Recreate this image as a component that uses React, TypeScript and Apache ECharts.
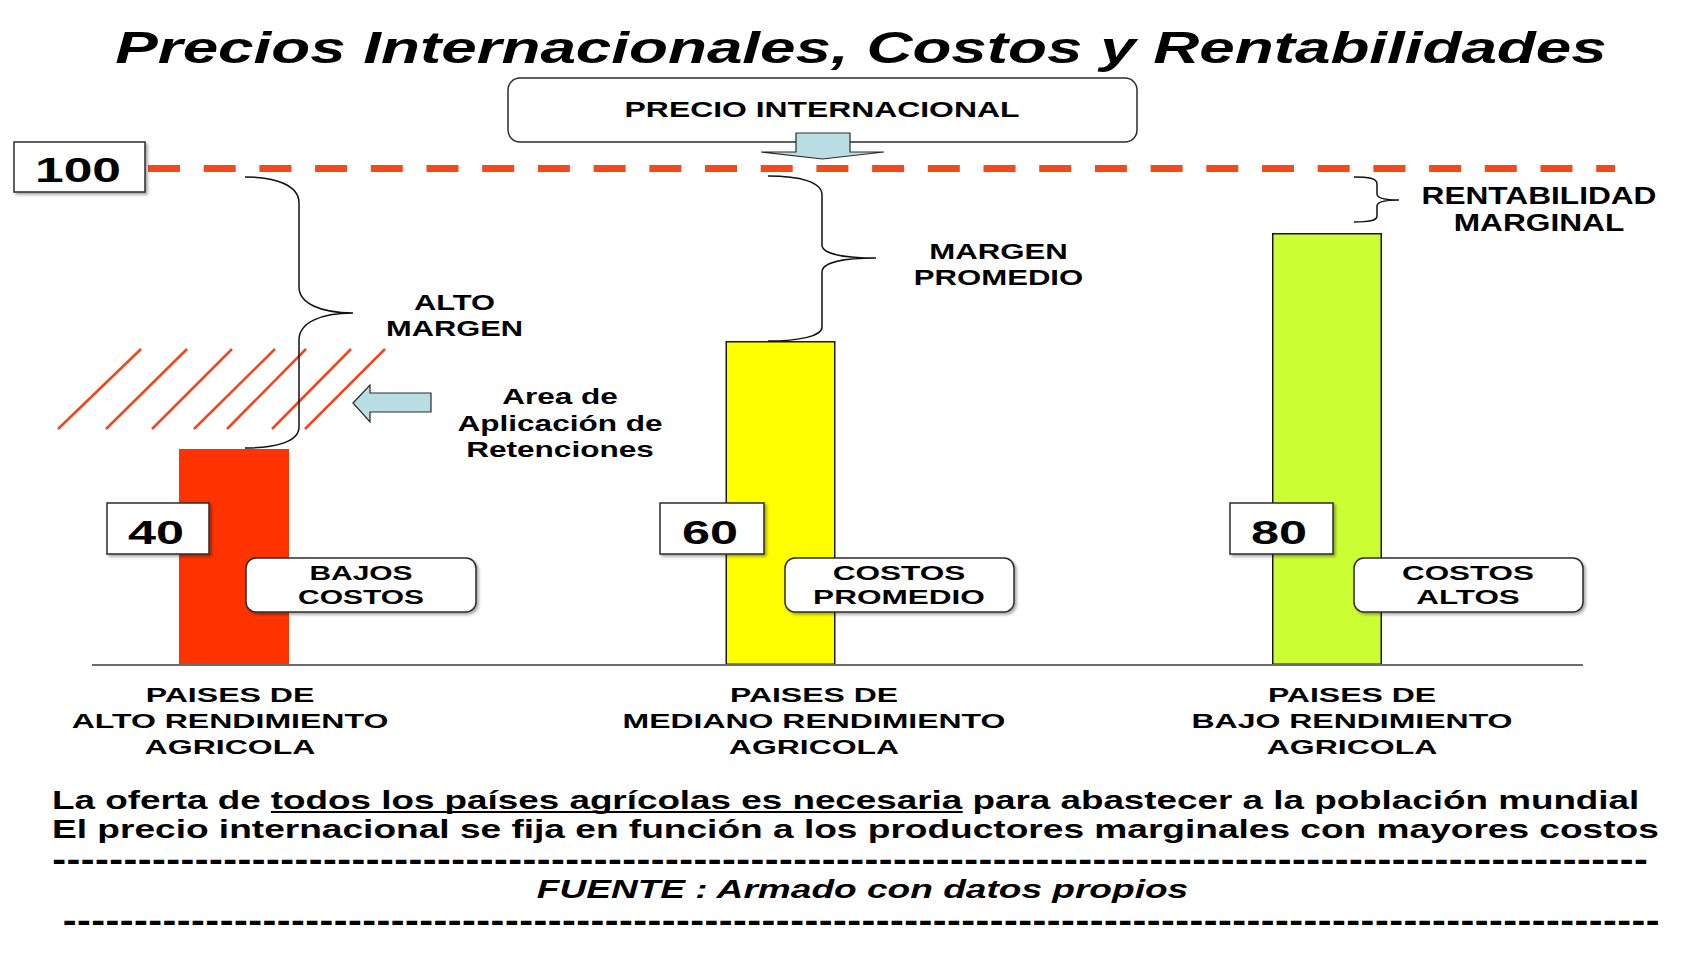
import React, { useEffect, useRef } from "react";
import * as echarts from "echarts";

// ---------- data ----------
const titleText = "Precios Internacionales, Costos y Rentabilidades";
const categories = [
  "PAISES DE\nALTO RENDIMIENTO\nAGRICOLA",
  "PAISES DE\nMEDIANO RENDIMIENTO\nAGRICOLA",
  "PAISES DE\nBAJO RENDIMIENTO\nAGRICOLA",
];
const costValues = [40, 60, 80];
const costLabels = ["BAJOS\nCOSTOS", "COSTOS\nPROMEDIO", "COSTOS\nALTOS"];
const marginLabels = ["ALTO\nMARGEN", "MARGEN\nPROMEDIO", "RENTABILIDAD\nMARGINAL"];
const internationalPrice = 100;
const priceLabel = "PRECIO INTERNACIONAL";
const retencionesLabel = "Area de\nAplicación de\nRetenciones";
const notePrefix = "La oferta de ";
const noteUnderlined = "todos los países agrícolas es necesaria";
const noteSuffix = " para abastecer a la población mundial";
const note2 = "El precio internacional se fija en función a los productores marginales con mayores costos";
const sourceText = "FUENTE : Armado con datos propios";

// ---------- styles / layout ----------
const barColors = ["#FF3300", "#FFFF00", "#CCFF33"];
const barBorders = [0, 1.5, 1.5];
const W = 1707;
const H = 960;
const GRID = { left: 234, right: 380, top: 125, bottom: 295 };
const BASE_Y = H - GRID.bottom;
const FONT = '"Liberation Sans", Arial, Helvetica, sans-serif';
const DASH_FONT = '"DejaVu Sans", sans-serif';
const PRICE_RED = "#F24A1C";

const valueBoxes = [
  { x: 107, y: 503, w: 102, h: 51, tx: 156 },
  { x: 660, y: 503, w: 104, h: 51, tx: 710 },
  { x: 1230, y: 503, w: 103, h: 51, tx: 1279 },
];
const costBoxes = [
  { x: 246, y: 558, w: 230, h: 54, cx: 361, tw: 126 },
  { x: 785, y: 558, w: 229, h: 54, cx: 899, tw: 172 },
  { x: 1354, y: 558, w: 229, h: 54, cx: 1468, tw: 132 },
];
const catPos = [
  { cx: 230, tw: 317 },
  { cx: 814, tw: 383 },
  { cx: 1352, tw: 321 },
];
const marginPos = [
  { cx: 454.5, cy: 316, tw: 137, fs: 22, lh: 26 },
  { cx: 998.5, cy: 265, tw: 169.5, fs: 22, lh: 26 },
  { cx: 1539, cy: 210, tw: 235, fs: 23, lh: 27 },
];

const braceAlto =
  "M245 177 C275 177 299 185 299 203 L299 287 C299 303 320 313 353 313 C320 313 299 323 299 340 L299 427 C299 442 275 448 245 448";
const braceMedio =
  "M768 176 C800 176 822 182 822 195 L822 245 C822 254 845 258 876 258 C845 258 822 262 822 272 L822 327 C822 336 800 341 768 341";
const braceMarginal =
  "M1354 177 C1368 177 1377 178 1377 184 L1377 194 C1377 198 1385 200 1399 200 C1385 200 1377 202 1377 206 L1377 216 C1377 221 1368 222 1354 222";

echarts.graphic.registerShape("braceAlto", echarts.graphic.extendPath(braceAlto, {}));
echarts.graphic.registerShape("braceMedio", echarts.graphic.extendPath(braceMedio, {}));
echarts.graphic.registerShape("braceMarginal", echarts.graphic.extendPath(braceMarginal, {}));

const hatch = [
  [58, 429, 141, 349],
  [106, 429, 187, 349],
  [152, 429, 232, 349],
  [194, 429, 275, 349],
  [227, 429, 306, 349],
  [272, 429, 351, 349],
  [305, 429, 385, 349],
];

let measureCtx: CanvasRenderingContext2D | null = null;
function measure(text: string, size: number, italic: boolean, family: string): number {
  if (!measureCtx) measureCtx = document.createElement("canvas").getContext("2d");
  const ctx = measureCtx as CanvasRenderingContext2D;
  ctx.font = `${italic ? "italic " : ""}bold ${size}px ${family}`;
  let m = 0;
  text.split("\n").forEach((l) => {
    m = Math.max(m, ctx.measureText(l).width);
  });
  return m || 1;
}

function sText(
  text: string,
  x: number,
  y: number,
  size: number,
  targetW: number,
  o: { align?: string; italic?: boolean; lineHeight?: number; family?: string } = {}
) {
  const fam = o.family || FONT;
  const s = targetW / measure(text, size, !!o.italic, fam);
  const align = o.align || "center";
  return {
    type: "text",
    x,
    y,
    scaleX: s,
    scaleY: 1,
    z: 30,
    silent: true,
    style: {
      text,
      x: 0,
      y: 0,
      align,
      textAlign: align,
      verticalAlign: "middle",
      textVerticalAlign: "middle",
      fontSize: size,
      fontWeight: "bold",
      fontStyle: o.italic ? "italic" : "normal",
      fontFamily: fam,
      fill: "#000",
      lineHeight: o.lineHeight || size * 1.2,
    },
  };
}

function box(x: number, y: number, w: number, h: number, r: number, shadow: boolean) {
  return {
    type: "rect",
    z: 20,
    silent: true,
    shape: { x, y, width: w, height: h, r },
    style: {
      fill: "#fff",
      stroke: "#2b2b2b",
      lineWidth: 1.5,
      shadowBlur: shadow ? 3 : 0,
      shadowOffsetX: shadow ? 2 : 0,
      shadowOffsetY: shadow ? 2 : 0,
      shadowColor: "rgba(0,0,0,0.35)",
    },
  };
}

function buildGraphics() {
  const els: any[] = [];
  els.push({
    type: "line",
    z: 3,
    silent: true,
    shape: { x1: 92, y1: BASE_Y, x2: 1583, y2: BASE_Y },
    style: { stroke: "#6b6b6b", lineWidth: 2 },
  });
  els.push(sText(titleText, 861, 47.5, 44, 1492, { italic: true }));
  els.push(box(508, 78, 629, 64, 12, false));
  els.push(sText(priceLabel, 822, 109.5, 22, 395));
  els.push({
    type: "polygon",
    z: 25,
    silent: true,
    shape: {
      points: [
        [796, 133],
        [850, 133],
        [850, 152],
        [884, 152],
        [822.5, 159],
        [761, 152],
        [796, 152],
      ],
    },
    style: { fill: "#B8DEE4", stroke: "#2a2a2a", lineWidth: 1.2 },
  });
  els.push(box(14, 142, 131, 50, 0, true));
  els.push(sText(String(internationalPrice), 78, 169.5, 35, 86));
  ["braceAlto", "braceMedio", "braceMarginal"].forEach((t) => {
    els.push({
      type: t,
      z: 8,
      silent: true,
      shape: {},
      style: { fill: "none", stroke: "#111", lineWidth: 1.5 },
    });
  });
  hatch.forEach((h) => {
    els.push({
      type: "line",
      z: 6,
      silent: true,
      shape: { x1: h[0], y1: h[1], x2: h[2], y2: h[3] },
      style: { stroke: "#F0461E", lineWidth: 2.5 },
    });
  });
  els.push({
    type: "polygon",
    z: 25,
    silent: true,
    shape: {
      points: [
        [353, 403],
        [370, 385],
        [370, 393],
        [431, 393],
        [431, 412],
        [370, 412],
        [370, 422],
      ],
    },
    style: { fill: "#B8DEE4", stroke: "#2a2a2a", lineWidth: 1.2 },
  });
  marginLabels.forEach((t, i) => {
    const p = marginPos[i];
    els.push(sText(t, p.cx, p.cy, p.fs, p.tw, { lineHeight: p.lh }));
  });
  els.push(sText(retencionesLabel, 560, 423, 22, 205, { lineHeight: 26.5 }));
  costValues.forEach((v, i) => {
    const b = valueBoxes[i];
    els.push(box(b.x, b.y, b.w, b.h, 0, true));
    els.push(sText(String(v), b.tx, 533, 32.5, 56));
  });
  costLabels.forEach((t, i) => {
    const b = costBoxes[i];
    els.push(box(b.x, b.y, b.w, b.h, 10, true));
    els.push(sText(t, b.cx, 585, 21, b.tw, { lineHeight: 24 }));
  });
  categories.forEach((c, i) => {
    const p = catPos[i];
    els.push(sText(c, p.cx, 721, 21, p.tw, { lineHeight: 26 }));
  });
  const line1 = notePrefix + noteUnderlined + noteSuffix;
  const n1Size = 26;
  const n1Scale = 1588 / measure(line1, n1Size, false, FONT);
  els.push(sText(line1, 52, 800, n1Size, 1588, { align: "left" }));
  const ux1 = 52 + n1Scale * measure(notePrefix, n1Size, false, FONT);
  const ux2 = 52 + n1Scale * measure(notePrefix + noteUnderlined, n1Size, false, FONT);
  els.push({
    type: "line",
    z: 30,
    silent: true,
    shape: { x1: ux1, y1: 812, x2: ux2, y2: 812 },
    style: { stroke: "#000", lineWidth: 2 },
  });
  els.push(sText(note2, 52, 829, 26, 1607, { align: "left" }));
  const rule = "-".repeat(112);
  els.push(sText(rule, 52, 861, 31, 1597, { align: "left", family: DASH_FONT }));
  els.push(sText(sourceText, 862.5, 889, 25, 653, { italic: true }));
  els.push(sText(rule, 62.5, 922, 31, 1597.5, { align: "left", family: DASH_FONT }));
  return els;
}

export default function App() {
  const ref = useRef<HTMLDivElement>(null);
  useEffect(() => {
    if (!ref.current) return;
    const chart = echarts.init(ref.current, null, { renderer: "svg", width: W, height: H });
    const option: any = {
      animation: false,
      backgroundColor: "#ffffff",
      grid: { ...GRID, containLabel: false },
      xAxis: { type: "category", data: categories, boundaryGap: false, show: false },
      yAxis: [
        { type: "value", min: 0, max: 100, show: false },
        { type: "value", min: 0, max: 108.65, show: false },
      ],
      series: [
        {
          type: "bar",
          name: "Costos",
          barWidth: 110,
          clip: false,
          silent: true,
          z: 2,
          data: costValues.map((v, i) => ({
            value: v,
            itemStyle: {
              color: barColors[i],
              borderColor: "#1a1a1a",
              borderWidth: barBorders[i],
            },
          })),
        },
        {
          type: "line",
          name: "Precio internacional",
          yAxisIndex: 1,
          data: [],
          silent: true,
          showSymbol: false,
          markLine: {
            silent: true,
            symbol: ["none", "none"],
            label: { show: false },
            emphasis: { disabled: true },
            lineStyle: { color: PRICE_RED, width: 7, type: [32, 23.7], cap: "butt" },
            data: [[{ x: 148, yAxis: internationalPrice }, { x: 1615, yAxis: internationalPrice }]],
          },
        },
      ],
      graphic: { elements: buildGraphics() },
    };
    chart.setOption(option);
    return () => {
      chart.dispose();
    };
  }, []);
  return (
    <div
      ref={ref}
      style={{ position: "fixed", left: 0, top: 0, width: W, height: H, background: "#fff" }}
    />
  );
}
